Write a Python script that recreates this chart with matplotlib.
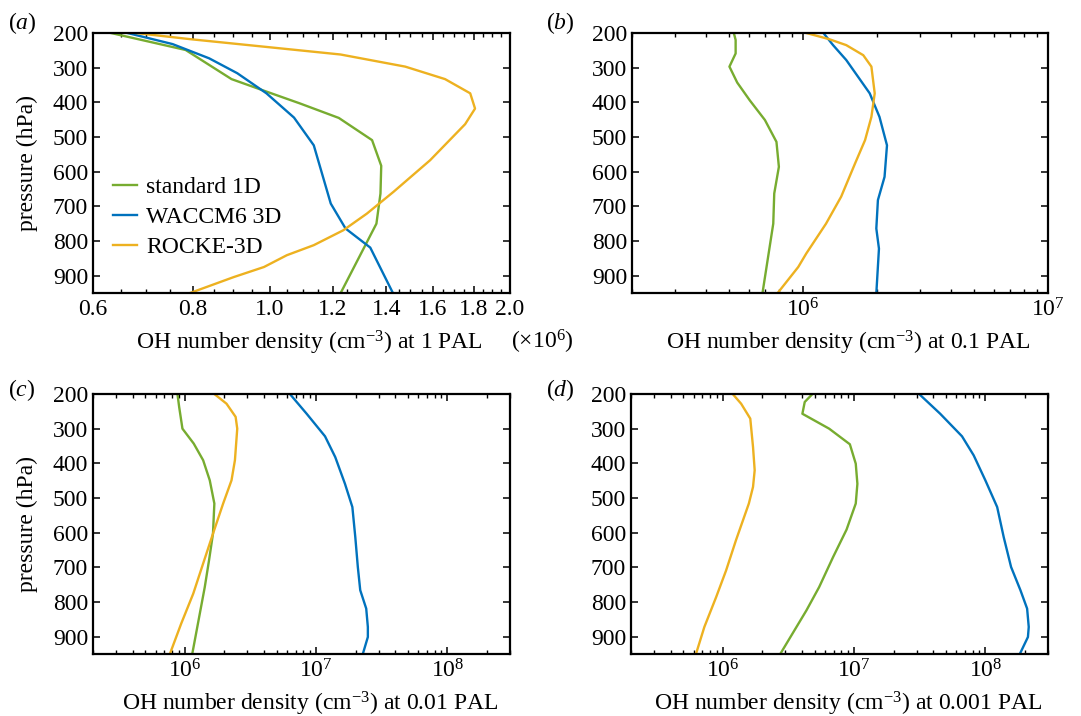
import numpy as np
import matplotlib
matplotlib.use("Agg")
import matplotlib.pyplot as plt
from matplotlib.ticker import FixedLocator, FixedFormatter, NullFormatter, LogLocator, LogFormatterSciNotation

plt.rcParams['font.family'] = ['Liberation Serif', 'DejaVu Serif']
plt.rcParams['mathtext.fontset'] = 'custom'
plt.rcParams['mathtext.rm'] = 'Liberation Serif'
plt.rcParams['mathtext.it'] = 'Liberation Serif:italic'
plt.rcParams['mathtext.bf'] = 'Liberation Serif:bold'

# ---------------- data ----------------
labels = ["standard 1D", "WACCM6 3D", "ROCKE-3D"]
colors = ["#77AC30", "#0072BD", "#EDB120"]

# Panel (a): 1 PAL, values in units of 10^6 cm^-3
a_std_p = [200, 249, 333, 369, 403, 445, 509, 583, 663, 750, 951]
a_std_x = [0.632, 0.784, 0.895, 0.99, 1.09, 1.22, 1.343, 1.379, 1.376, 1.36, 1.226]
a_wac_p = [200, 232, 273, 316, 374, 444, 524, 692, 764, 819, 951]
a_wac_x = [0.663, 0.755, 0.839, 0.910, 0.99, 1.072, 1.135, 1.192, 1.244, 1.336, 1.427]
a_roc_p = [200, 218, 262, 297, 333, 374, 418, 463, 567, 658, 721, 769, 812, 841, 875, 904, 951]
a_roc_x = [0.679, 0.796, 1.226, 1.478, 1.658, 1.783, 1.808, 1.757, 1.588, 1.429, 1.323, 1.236,
           1.135, 1.05, 0.983, 0.901, 0.792]

# Panel (b): 0.1 PAL (cm^-3)
b_std_p = [200, 220, 259, 297, 343, 394, 451, 514, 586, 663, 750, 951]
b_std_x = [5.21e5, 5.3e5, 5.3e5, 5.0e5, 5.38e5, 6.05e5, 6.98e5, 7.78e5, 7.96e5, 7.62e5, 7.55e5, 6.82e5]
b_wac_p = [200, 235, 278, 374, 442, 524, 615, 682, 764, 822, 951]
b_wac_x = [1.21e6, 1.325e6, 1.50e6, 1.87e6, 2.05e6, 2.20e6, 2.15e6, 2.02e6, 1.99e6, 2.04e6, 1.99e6]
b_roc_p = [200, 218, 235, 264, 297, 374, 442, 509, 576, 672, 750, 836, 875, 951]
b_roc_x = [1.03e6, 1.28e6, 1.50e6, 1.76e6, 1.90e6, 1.96e6, 1.90e6, 1.79e6, 1.63e6, 1.43e6, 1.24e6,
           1.03e6, 9.55e5, 7.85e5]

# Panel (c): 0.01 PAL
c_std_p = [200, 237, 300, 343, 391, 449, 516, 603, 680, 757, 950]
c_std_x = [8.8e5, 9.06e5, 9.6e5, 1.17e6, 1.38e6, 1.55e6, 1.68e6, 1.64e6, 1.53e6, 1.42e6, 1.14e6]
c_wac_p = [200, 257, 322, 382, 459, 526, 613, 699, 766, 819, 872, 901, 950]
c_wac_x = [6.32e6, 8.48e6, 1.17e7, 1.40e7, 1.66e7, 1.89e7, 1.99e7, 2.08e7, 2.17e7, 2.41e7, 2.48e7,
           2.48e7, 2.27e7]
c_roc_p = [200, 228, 266, 300, 391, 449, 516, 603, 689, 776, 862, 950]
c_roc_x = [1.68e6, 2.08e6, 2.44e6, 2.51e6, 2.41e6, 2.27e6, 1.96e6, 1.64e6, 1.38e6, 1.16e6, 9.4e5, 7.7e5]

# Panel (d): 0.001 PAL
d_std_p = [200, 223, 257, 300, 345, 401, 459, 516, 591, 670, 757, 824, 950]
d_std_x = [4.82e6, 4.21e6, 4.04e6, 6.46e6, 9.29e6, 1.03e7, 1.06e7, 1.03e7, 8.77e6, 6.93e6, 5.42e6,
           4.34e6, 2.74e6]
d_wac_p = [200, 257, 322, 377, 449, 526, 613, 699, 766, 819, 872, 901, 950]
d_wac_x = [3.13e7, 4.53e7, 6.64e7, 8.15e7, 1.0e8, 1.23e8, 1.38e8, 1.57e8, 1.85e8, 2.08e8, 2.14e8,
           2.11e8, 1.83e8]
d_roc_p = [200, 228, 271, 353, 420, 468, 516, 622, 709, 786, 872, 950]
d_roc_x = [1.19e6, 1.38e6, 1.62e6, 1.70e6, 1.75e6, 1.70e6, 1.58e6, 1.26e6, 1.06e6, 8.9e5, 7.24e5, 6.25e5]

pressure_ticks = [200, 300, 400, 500, 600, 700, 800, 900]
a_major = [0.6, 0.8, 1.0, 1.2, 1.4, 1.6, 1.8, 2.0]
a_major_labels = ["0.6", "0.8", "1.0", "1.2", "1.4", "1.6", "1.8", "2.0"]
panel_letters = ["a", "b", "c", "d"]
xlabels = [r"OH number density (cm$^{-3}$) at 1 PAL",
           r"OH number density (cm$^{-3}$) at 0.1 PAL",
           r"OH number density (cm$^{-3}$) at 0.01 PAL",
           r"OH number density (cm$^{-3}$) at 0.001 PAL"]

# ---------------- figure ----------------
W, H = 1081, 716
fig = plt.figure(figsize=(W / 100, H / 100), dpi=100)

def box(l, r, t, b):
    return [l / W, 1 - b / H, (r - l) / W, (b - t) / H]

axa = fig.add_axes(box(93, 510, 33, 293))
axb = fig.add_axes(box(632, 1048, 33, 293))
axc = fig.add_axes(box(93, 510, 394, 654))
axd = fig.add_axes(box(631, 1048, 394, 654))
axes = [axa, axb, axc, axd]
letter_pos = [(22, 23), (560, 23), (22, 390), (560, 390)]

data = [
    [(a_std_x, a_std_p), (a_wac_x, a_wac_p), (a_roc_x, a_roc_p)],
    [(b_std_x, b_std_p), (b_wac_x, b_wac_p), (b_roc_x, b_roc_p)],
    [(c_std_x, c_std_p), (c_wac_x, c_wac_p), (c_roc_x, c_roc_p)],
    [(d_std_x, d_std_p), (d_wac_x, d_wac_p), (d_roc_x, d_roc_p)],
]

FS = 17
for i, ax in enumerate(axes):
    for (x, p), c, lab in zip(data[i], colors, labels):
        ax.plot(x, p, color=c, lw=1.7, label=lab, clip_on=True)
    ax.set_xscale('log')
    ax.set_ylim(950, 200)
    ax.set_yticks(pressure_ticks)
    ax.tick_params(which='both', direction='in', top=True, right=True, labelsize=FS)
    ax.tick_params(which='major', length=5, width=1.1)
    ax.tick_params(which='minor', length=3, width=1.0)
    ax.tick_params(axis='y', which='minor', left=False, right=False)
    ax.tick_params(axis='x', which='major', pad=4)
    for s in ax.spines.values():
        s.set_linewidth(1.6)
    ax.set_xlabel(xlabels[i], fontsize=FS, va='baseline')
    ax.xaxis.set_label_coords(0.52, -56 / 260)
    lx, ly = letter_pos[i]
    fig.text(lx / W, 1 - ly / H, r"($\mathit{%s}$)" % panel_letters[i],
             fontsize=FS, ha='center', va='center')

# panel a axis
axa.set_xlim(0.6, 2.0)
axa.xaxis.set_major_locator(FixedLocator(a_major))
axa.xaxis.set_major_formatter(FixedFormatter(a_major_labels))
axa.xaxis.set_minor_locator(FixedLocator(np.arange(0.6, 2.0001, 0.05)))
axa.xaxis.set_minor_formatter(NullFormatter())
fig.text(542 / W, 1 - 349 / H, r"($\times$10$^{6}$)", fontsize=FS, ha='center', va='baseline')

axb.set_xlim(2e5, 1e7)
for ax in (axc, axd):
    ax.set_xlim(2e5, 3e8)
for ax in (axb, axc, axd):
    ax.xaxis.set_major_locator(LogLocator(base=10, numticks=10))
    ax.xaxis.set_major_formatter(LogFormatterSciNotation())
    ax.xaxis.set_minor_locator(LogLocator(base=10, subs=np.arange(2, 10), numticks=20))
    ax.xaxis.set_minor_formatter(NullFormatter())

for ax in (axa, axc):
    ax.set_ylabel("pressure (hPa)", fontsize=FS)
    ax.yaxis.set_label_coords(-55 / 417, 0.5)

axa.legend(loc='center left', bbox_to_anchor=(0.048, 0.292), frameon=False, fontsize=FS,
           handlelength=1.0, handletextpad=0.4, labelspacing=0.36, borderpad=0, borderaxespad=0)

fig.savefig("out.png", dpi=100)
